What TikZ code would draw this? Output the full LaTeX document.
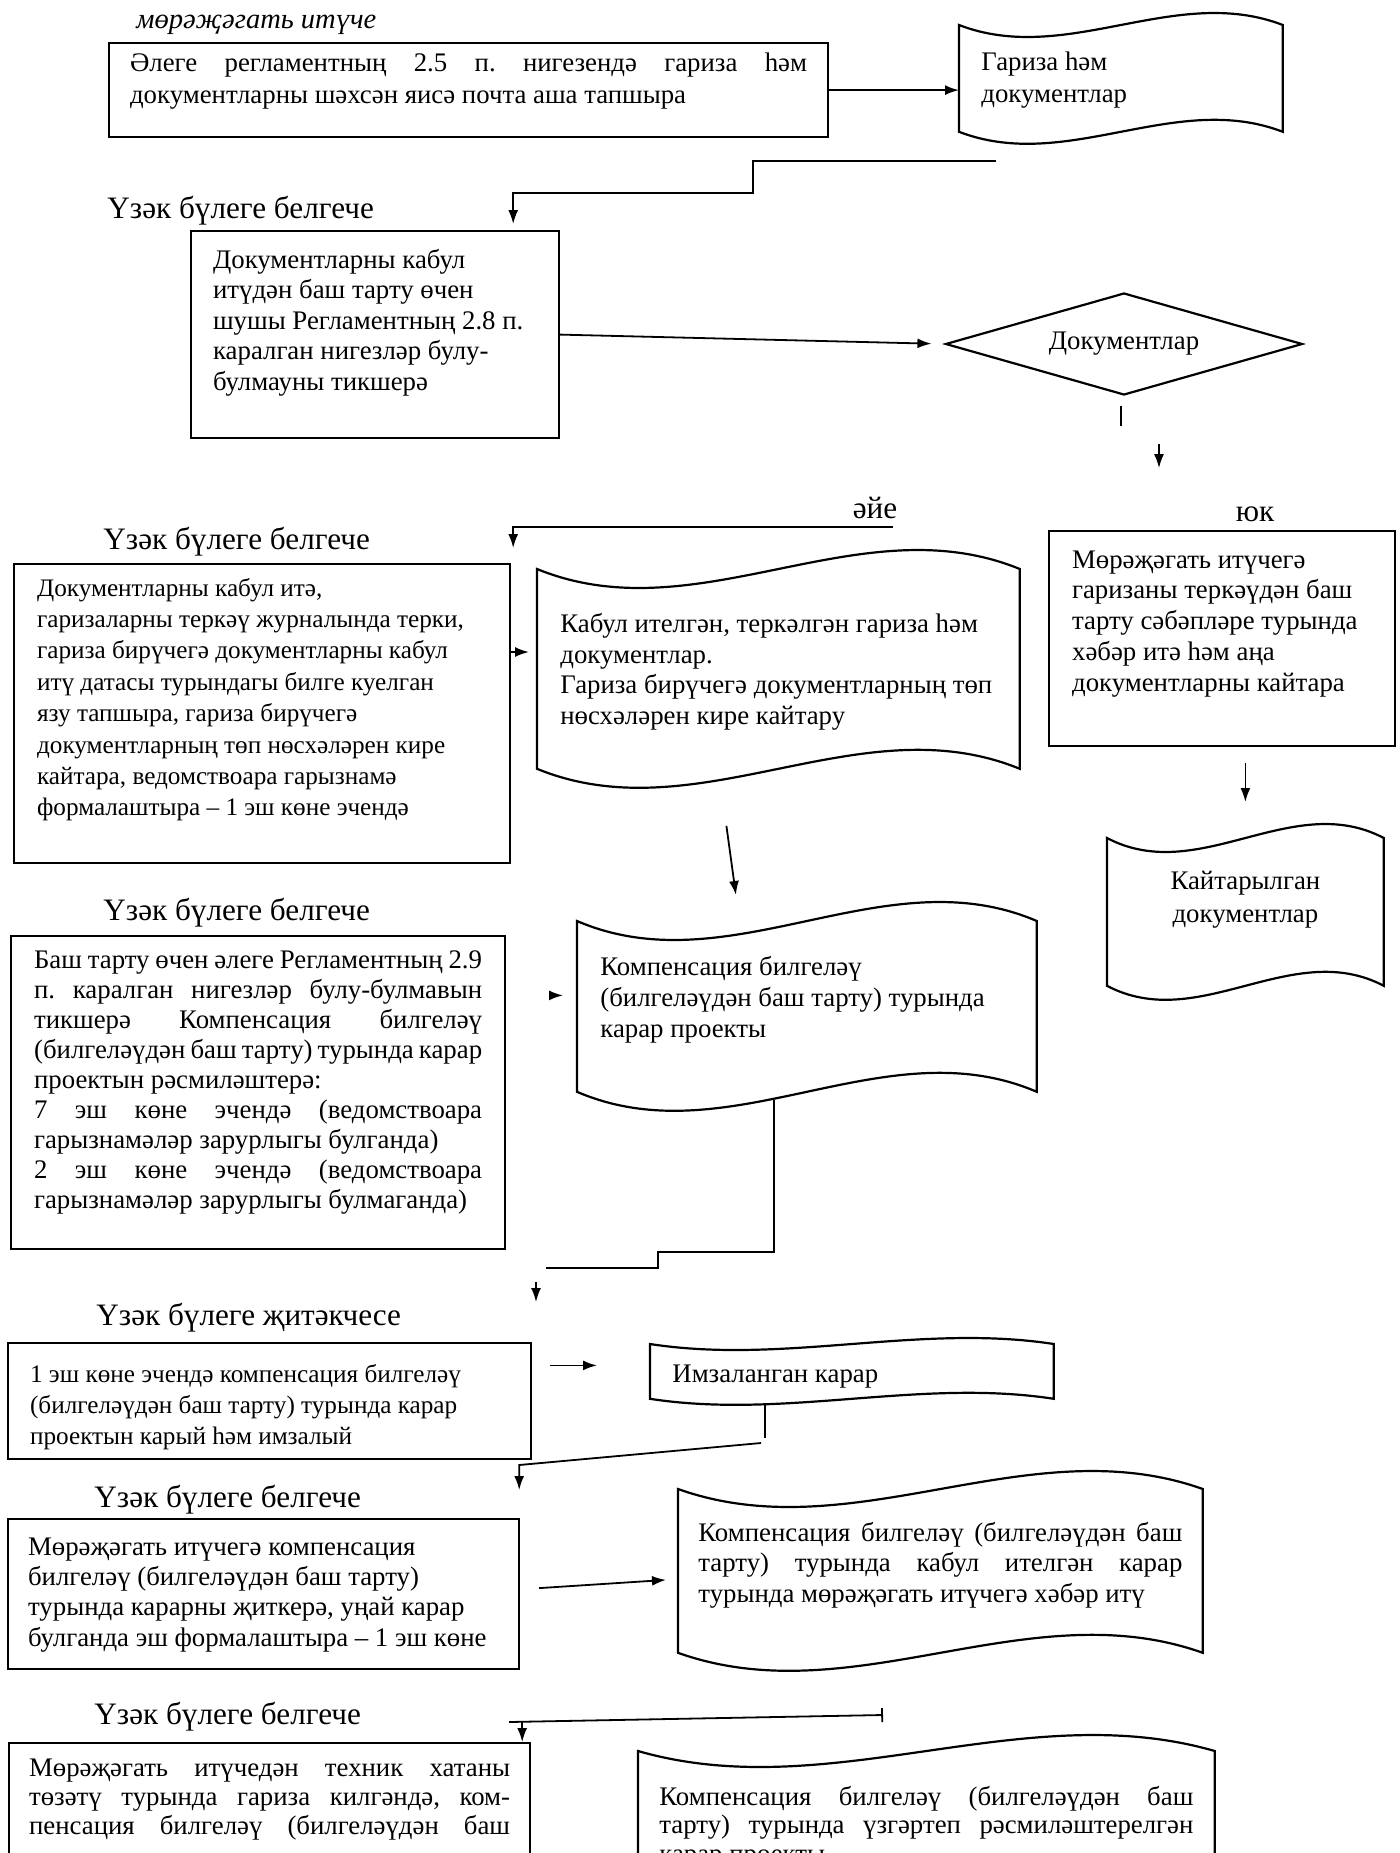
\documentclass[tikz,border=0pt]{standalone}
\usepackage{fontspec}
\setmainfont{Liberation Serif}
\usetikzlibrary{calc,arrows.meta,shapes.geometric}
\frenchspacing
\newcommand{\jl}[1]{\makebox[\linewidth][s]{#1}}
\newcommand{\bodyfont}[2][13.4]{\fontsize{#1}{#2}\selectfont}
\newcommand{\docwave}[2]{%
	\draw[line width=1.1pt] (#1.north west)
		.. controls ($(#1.north west)!.333!(#1.north east)+(0,#2*3.46)$) and ($(#1.north west)!.667!(#1.north east)+(0,-#2*3.46)$) .. (#1.north east)
		-- (#1.south east)
		.. controls ($(#1.south west)!.667!(#1.south east)+(0,-#2*3.46)$) and ($(#1.south west)!.333!(#1.south east)+(0,#2*3.46)$) .. (#1.south west)
		-- cycle;}
\begin{document}
\begin{tikzpicture}[x=0.5pt,y=-0.5pt,
	every node/.style={execute at begin node={\spaceskip=.25em plus .6em minus .08em\xspaceskip=0pt}},
	box/.style={draw, line width=1.1pt, rectangle, anchor=north west, align=left, inner ysep=0pt, font={\bodyfont{15.5}}},
	docu/.style={rectangle, anchor=north west, align=left, inner ysep=0pt, font={\bodyfont{15.5}}},
	head/.style={anchor=base west, inner sep=0pt, font={\fontsize{15.6}{18}\selectfont}},
	arr/.style={-{Latex[length=7pt,width=5pt]}, line width=0.9pt},
	conn/.style={line width=0.9pt}]
	\useasboundingbox (0,0) rectangle (1399,1853);
	\clip (0,0) rectangle (1399,1853);
	\fill[white] (0,0) rectangle (1399,1853);
	
	\node[head, font={\fontsize{14.25}{17}\selectfont\itshape}] (t0) at (136,28) {мөрәҗәгать итүче};
	\node[box, inner xsep=10.5pt, text width=338.5pt, text height=14pt, text depth=33pt, font={\bodyfont{16}}] (b1) at (108,42) {\jl{Әлеге регламентның 2.5 п. нигезендә гариза һәм}\\документларны шәхсән яисә почта аша тапшыра};
	\node[docu, inner xsep=11pt, text width=139.5pt, text height=22.5pt, text depth=30.5pt, font={\bodyfont{16}}] (d1) at (959,25) {Гариза һәм\\документлар};
	
	\node[head] (h1) at (107,218) {Үзәк бүлеге белгече};
	\node[box, inner xsep=11pt, text width=162pt, text height=18.5pt, text depth=85pt, font={\bodyfont{15.25}}] (b2) at (190,230) {Документларны кабул\\итүдән баш тарту өчен\\шушы Регламентның 2.8 п.\\каралган нигезләр булу-\\булмауны тикшерә};
	\node[draw, diamond, aspect=3.5, line width=1.1pt, minimum width=178.5pt, minimum height=51pt, inner sep=0pt, font={\bodyfont{15.5}}] (dia) at (1124,344) {Документлар};
	
	\node[head, anchor=base] (yes) at (875,518) {әйе};
	\node[head, anchor=base] (no) at (1255,521) {юк};
	\node[head] (h2) at (103,549) {Үзәк бүлеге белгече};
	\node[box, inner xsep=11.5pt, text width=225pt, text height=16pt, text depth=133.5pt, font={\bodyfont[12.6]{15.7}}] (b3) at (13,563) {Документларны кабул итә,\\гаризаларны теркәү журналында терки,\\гариза бирүчегә документларны кабул\\итү датасы турындагы билге куелган\\язу тапшыра, гариза бирүчегә\\документларның төп нөсхәләрен кире\\кайтара, ведомствоара гарызнамә\\формалаштыра – 1 эш көне эчендә};
	\node[docu, inner xsep=11.5pt, text width=218pt, text height=31.5pt, text depth=68pt, font={\bodyfont{15.35}}] (d2) at (537,569) {Кабул ителгән, теркәлгән гариза һәм\\документлар.\\Гариза бирүчегә документларның төп\\нөсхәләрен кире кайтару};
	\node[box, inner xsep=11.5pt, text width=150pt, text height=18.5pt, text depth=89pt, font={\bodyfont{15.4}}] (bno) at (1048,530) {Мөрәҗәгать итүчегә\\гаризаны теркәүдән баш\\тарту сәбәпләре турында\\хәбәр итә һәм аңа\\документларны кайтара};
	\node[docu, align=center, inner xsep=11.5pt, text width=115pt, text height=25.5pt, text depth=48pt, font={\bodyfont{16.5}}] (d3) at (1107,838) {Кайтарылган\\документлар};
	
	\node[head] (h3) at (103,920) {Үзәк бүлеге белгече};
	\node[box, inner xsep=11.5pt, text width=224pt, text height=16pt, text depth=140.5pt, font={\bodyfont{15}}] (b4) at (10,935) {\jl{Баш тарту өчен әлеге Регламентның 2.9}\\\jl{п. каралган нигезләр булу-булмавын}\\\jl{тикшерә Компенсация билгеләү}\\\jl{(билгеләүдән баш тарту) турында карар}\\проектын рәсмиләштерә:\\\jl{7 эш көне эчендә (ведомствоара}\\гарызнамәләр зарурлыгы булганда)\\\jl{2 эш көне эчендә (ведомствоара}\\гарызнамәләр зарурлыгы булмаганда)};
	\node[docu, inner xsep=11.5pt, text width=206.5pt, text height=27pt, text depth=58pt, font={\bodyfont{15.5}}] (d4) at (577,921) {Компенсация билгеләү\\(билгеләүдән баш тарту) турында\\карар проекты};
	
	\node[head] (h4) at (96,1325) {Үзәк бүлеге җитәкчесе};
	\node[box, inner xsep=11pt, text width=239.5pt, text height=19.5pt, text depth=38.5pt, font={\bodyfont[12.6]{15.5}}] (b5) at (7,1342) {1 эш көне эчендә компенсация билгеләү\\(билгеләүдән баш тарту) турында карар\\проектын карый һәм имзалый};
	\node[docu, inner xsep=11pt, text width=179.5pt, text height=19pt, text depth=8pt] (d5) at (650,1344) {Имзаланган карар};
	
	\node[head] (h5) at (94,1507) {Үзәк бүлеге белгече};
	\node[box, inner xsep=10pt, text width=235.5pt, text height=18pt, text depth=57pt, font={\bodyfont{15.2}}] (b6) at (7,1518) {Мөрәҗәгать итүчегә компенсация\\билгеләү (билгеләүдән баш тарту)\\турында карарны җиткерә, уңай карар\\булганда эш формалаштыра – 1 эш көне};
	\node[docu, inner xsep=10pt, text width=242pt, text height=26pt, text depth=55.5pt, font={\bodyfont{15.25}}] (d6) at (678,1489) {\jl{Компенсация билгеләү (билгеләүдән баш}\\\jl{тарту) турында кабул ителгән карар}\\турында мөрәҗәгать итүчегә хәбәр итү};
	
	\node[head] (h6) at (94,1724) {Үзәк бүлеге белгече};
	\node[box, inner xsep=10pt, text width=240.5pt, text height=16.5pt, text depth=62.5pt, font={\bodyfont{14.5}}] (b7) at (8,1742) {\jl{Мөрәҗәгать итүчедән техник хатаны}\\\jl{төзәтү турында гариза килгәндә, ком-}\\\jl{пенсация билгеләү (билгеләүдән баш}};
	\node[docu, inner xsep=10.5pt, text width=267pt, text height=27pt, text depth=47.5pt, font={\bodyfont{14.25}}] (d7) at (638,1751) {\jl{Компенсация билгеләү (билгеләүдән баш}\\\jl{тарту) турында үзгәртеп рәсмиләштерелгән}\\карар проекты};
	
	\foreach \n/\b in {d1/12,d2/19,d3/14,d4/19,d5/6,d6/18,d7/16}{
		\docwave{\n}{\b}
	}
	
	\draw[arr] (b1.east) -- (b1.east -| d1.west);
	\coordinate (c1) at (996,161);
	\coordinate (c1s) at (753,193);
	\draw[arr, shorten >=3pt] (c1) -| (c1s) -| ($(b2.north east)+(-47,0)$);
	\draw[arr, shorten >=6.5pt] (b2.east) -- (dia.west);
	\draw[conn] ($(dia.south)+(-3,10)$) -- ++(0,20);
	\draw[arr] ($(dia.south)+(35,48)$) -- ++(0,24);
	\coordinate (c2) at (893,527);
	\draw[arr] (c2) -| ($(b3.north east)+(2,-15)$);
	\draw[arr, shorten >=4pt] (b3.east |- 0,652) -- (d2.west |- 0,652);
	\draw[arr, shorten <=8pt, shorten >=18pt] (bno.south -| d3.north) -- (d3.north);
	\draw[arr] ($(d2.south)+(-52,57)$) -- ($(d4.north)+(-71,-26)$);
	\draw[arr] ($(d4.west)+(-28,-11)$) -- ++(14,0);
	\coordinate (k1) at (658,1252);
	\coordinate (k2) at (546,1268);
	\draw[conn] ($(d4.south west)+(197,8)$) |- (k1) |- (k2);
	\draw[arr] ($(k2)+(-10,14)$) -- ++(0,20);
	\draw[arr, shorten <=9pt] ($(b5.east |- d5.west)+(0,-6)$) -- ($(d5.west)+(-53,-6)$);
	\draw[conn] ($(d5.south west)+(115,5)$) -- ++(0,34);
	\coordinate (k3) at (761,1443);
	\draw[arr] (k3) -- ($(b6.north east)+(-1,-53)$) -- ++(0,25);
	\draw[arr] ($(b6.east)+(19,-6)$) -- ($(d6.west)+(-12,9)$);
	\coordinate (k5) at (883,1715);
	\draw[conn, {Bar[width=7pt]}-] (k5) -- ($(b7.north east)+(-22,-20)$);
	\draw[arr] ($(b7.north east)+(-9,-20)$) -- ++(0,20);
\end{tikzpicture}
\end{document}
